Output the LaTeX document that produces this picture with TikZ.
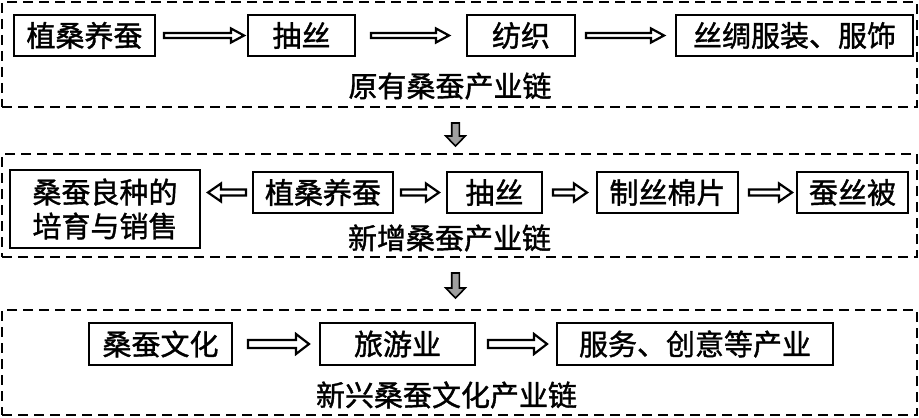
\documentclass[tikz,border=0pt]{standalone}
\usepackage{fontspec}
\setmainfont{Noto Sans CJK SC}
\newfontfamily\chainfont{Noto Sans CJK SC}[FakeBold=1.3]
\usetikzlibrary{calc}
\tikzset{
  chainbox/.style={draw, line width=1pt, inner sep=0pt, minimum height=20.5pt, font=\chainfont\fontsize{14.5}{17}\selectfont},
  chainlabel/.style={inner sep=0pt, font=\chainfont\fontsize{14.5}{17}\selectfont},
  chainframe/.style={draw, dash pattern=on 5pt off 3pt, line width=1pt, inner sep=0pt, minimum width=457.5pt},
  % start gap, tip gap, head base gap, shaft half width, head half width
  blockarrow/.style n args={5}{to path={
    ($(\tikztostart)!#1!(\tikztotarget)!#4!90:(\tikztotarget)$)
    -- ($(\tikztotarget)!#3!(\tikztostart)!#4!-90:(\tikztostart)$)
    -- ($(\tikztotarget)!#3!(\tikztostart)!#5!-90:(\tikztostart)$)
    -- ($(\tikztotarget)!#2!(\tikztostart)$)
    -- ($(\tikztotarget)!#3!(\tikztostart)!#5!90:(\tikztostart)$)
    -- ($(\tikztotarget)!#3!(\tikztostart)!#4!90:(\tikztostart)$)
    -- ($(\tikztostart)!#1!(\tikztotarget)!#4!-90:(\tikztotarget)$)
    -- cycle}},
  hollow/.style={draw, line width=1.1pt, fill=white, line join=miter},
  grayarrow/.style={draw, line width=0.8pt, fill=gray!75, line join=miter}
}

\begin{document}
\begin{tikzpicture}[x=0.5pt, y=-0.5pt]
\useasboundingbox (0,0) rectangle (919,417);

% dashed frames of the three chains
\node[chainframe, minimum height=52.5pt] (f1) at (459.5,54.5) {};
\node[chainframe, minimum height=51.5pt] (f2) at (459.5,205.5) {};
\node[chainframe, minimum height=52.5pt] (f3) at (459.5,362.5) {};

% original chain
\foreach \name/\x/\w/\txt in {r1a/84.5/70.5pt/植桑养蚕, r1b/301.5/53.5pt/抽丝, r1c/521/54pt/纺织, r1d/794.5/118.5pt/丝绸服装、服饰}
  \node[chainbox, minimum width=\w] (\name) at (\x,35.5) {\txt};
\node[chainlabel] (t1) at (450,86) {原有桑蚕产业链};

\draw[hollow] (r1a.east) to[blockarrow={4pt}{1.5pt}{8pt}{1.25pt}{3.5pt}] (r1b.west);
\draw[hollow] (r1b.east) to[blockarrow={7.5pt}{8.5pt}{15pt}{1.25pt}{3.5pt}] (r1c.west);
\draw[hollow] (r1c.east) to[blockarrow={5pt}{5.5pt}{12pt}{1.25pt}{3.5pt}] (r1d.west);

% added chain
\node[chainbox, minimum width=95pt, minimum height=39pt, align=center] (r2a) at (105,209) {桑蚕良种的\\培育与销售};
\foreach \name/\x/\w/\txt in {r2b/323/70pt/植桑养蚕, r2c/494.5/47.5pt/抽丝, r2d/667.5/70.5pt/制丝棉片, r2e/852.5/55.5pt/蚕丝被}
  \node[chainbox, minimum width=\w] (\name) at (\x,192.5) {\txt};
\node[chainlabel] (t2) at (449.5,238) {新增桑蚕产业链};

\draw[hollow] (r2b.west) to[blockarrow={3pt}{3.5pt}{10pt}{1.5pt}{4.5pt}] (r2a.east |- r2b.west);
\draw[hollow] (r2b.east) to[blockarrow={3.5pt}{3.5pt}{10pt}{1.5pt}{4.5pt}] (r2c.west);
\draw[hollow] (r2c.east) to[blockarrow={5pt}{4.5pt}{11pt}{1.5pt}{4.5pt}] (r2d.west);
\draw[hollow] (r2d.east) to[blockarrow={5pt}{2pt}{8.5pt}{1.5pt}{4.5pt}] (r2e.west);

% new culture chain
\foreach \name/\x/\w/\txt in {r3a/160.5/71.5pt/桑蚕文化, r3b/397.5/77.5pt/旅游业, r3c/695/138pt/服务、创意等产业}
  \node[chainbox, minimum width=\w, minimum height=21pt] (\name) at (\x,344) {\txt};
\node[chainlabel] (t3) at (446.5,395) {新兴桑蚕文化产业链};

\draw[hollow] (r3a.east) to[blockarrow={7.5pt}{5pt}{11.5pt}{2pt}{5pt}] (r3b.west);
\draw[hollow] (r3b.east) to[blockarrow={6pt}{4.5pt}{11pt}{2pt}{5pt}] (r3c.west);

% gray arrows between frames
\draw[grayarrow] ([xshift=-2pt]f1.south) to[blockarrow={7.5pt}{3.5pt}{8.5pt}{1.9pt}{4.9pt}] ([xshift=-2pt]f2.north);
\draw[grayarrow] ([xshift=-2pt]f2.south) to[blockarrow={7.5pt}{5.5pt}{10.5pt}{1.9pt}{4.9pt}] ([xshift=-2pt]f3.north);
\end{tikzpicture}
\end{document}
